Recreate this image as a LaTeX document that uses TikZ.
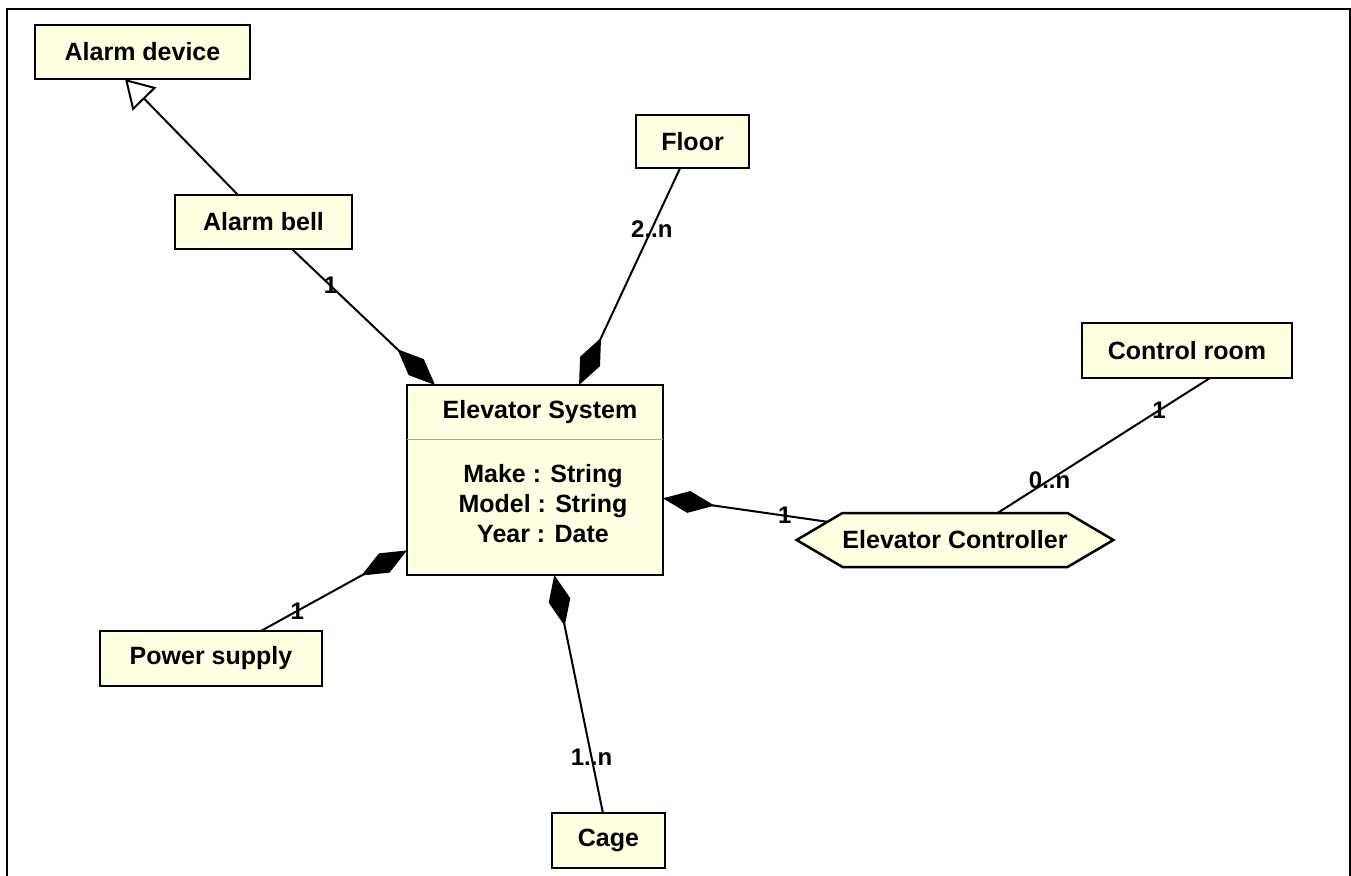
\documentclass[tikz,border=0pt]{standalone}
\usepackage{fontspec}
\setmainfont{Liberation Sans}
\usetikzlibrary{arrows.meta,shapes.symbols,calc}

\definecolor{classfill}{RGB}{255,255,226}

\tikzset{
  classbox/.style={draw=black, line width=2.5pt, fill=classfill, inner sep=0pt,
    outer sep=0pt, font=\fontsize{25}{30}\selectfont\bfseries},
  ctrlshape/.style={classbox, shape=signal, signal to=east and west,
    signal pointer angle=61, minimum height=54pt},
  link/.style={line width=2pt, draw=black},
  comp/.style={link, -{Diamond[length=52pt, width=22pt]}},
  gen/.style={link, -{Triangle[open, length=28pt, width=33pt, fill=white]}},
  mult/.style={font=\fontsize{24}{28}\selectfont\bfseries, inner sep=0pt},
  attr/.style={font=\fontsize{25}{30}\selectfont\bfseries, inner sep=0pt, align=center}
}

\begin{document}
\begin{tikzpicture}[x=1pt, y=-1pt]
  \useasboundingbox (0,0) rectangle (1351,875);
  \fill[white] (0,0) rectangle (1351,875);
  % frame open at the bottom
  \draw[line width=2.5pt] (7,880) -- (7,9) -- (1350,9) -- (1350,880);

  % classes
  \node[classbox, minimum width=215pt, minimum height=54pt] (device) at (142.5,52) {Alarm device};
  \node[classbox, minimum width=177pt, minimum height=54pt] (bell) at (263.5,222) {Alarm bell};
  \node[classbox, minimum width=113pt, minimum height=53pt] (floor) at (692.5,141.5) {Floor};
  \node[classbox, minimum width=210pt, minimum height=55pt] (room) at (1187,350.5) {Control room};
  \node[classbox, minimum width=222pt, minimum height=55pt] (power) at (211,658.5) {Power supply};
  \node[classbox, minimum width=113pt, minimum height=55pt] (cage) at (608.5,840.5) {Cage};
  \node[ctrlshape] (ctrl) at (955,540) {Elevator Controller};

  % main class with title and attribute compartments
  \node[classbox, minimum width=256pt, minimum height=190pt] (sys) at (535,480) {};
  \node[attr] (systitle) at (540,412) {Elevator System};
  \draw[line width=1pt, draw=black!35] ($(sys.west)+(0,-41)$) -- ($(sys.east)+(0,-41)$);
  \node[attr] (sysattr) at (543,504)
    {Make : String\\Model : String\\Year : Date};

  % generalization
  \draw[gen] ($(bell.north)+(-25.5,0)$) -- ($(device.south)+(-17.5,0)$);

  % compositions
  \draw[comp] (bell) -- node[mult, pos=0.27] {1} (sys);
  \draw[comp] (floor) -- node[mult, pos=0.28] {2..n} (sys);
  \draw[comp] (power) -- node[mult, pos=0.25] {1} (sys);
  \draw[comp] (cage) -- node[mult, pos=0.235] {1..n} (sys);
  \draw[comp] (ctrl) -- node[mult, pos=0.26] {1} (sys);

  % association to the control room
  \draw[link] (ctrl) -- node[mult, pos=0.245] {0..n} node[mult, pos=0.76] {1}
    ($(room.south)+(23,0)$);
\end{tikzpicture}
\end{document}
